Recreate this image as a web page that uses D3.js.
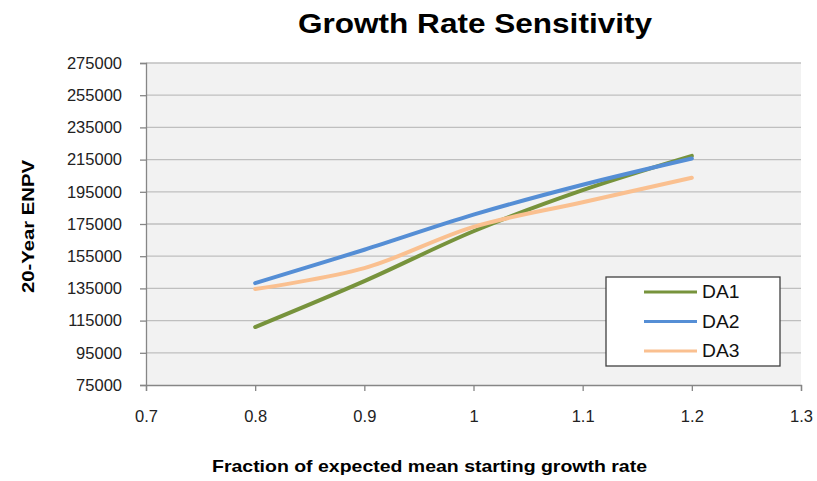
<!DOCTYPE html>
<html>
<head>
<meta charset="utf-8">
<script src="https://cdn.jsdelivr.net/npm/d3@7"></script>
<style>
  html, body { margin: 0; padding: 0; background: #fff; }
  svg { display: block; font-family: "Liberation Sans", Arial, sans-serif; }
</style>
</head>
<body>
<svg id="chart" width="817" height="481"></svg>
<script>
const xValues = [0.8, 0.9, 1.0, 1.1, 1.2];
const seriesNames = ["DA1", "DA2", "DA3"];
const da1 = [111000, 139500, 170500, 196000, 217300];
const da2 = [138300, 159000, 180800, 199400, 215700];
const da3 = [134600, 147600, 173200, 188500, 203700];
const seriesColors = ["#77933C", "#558ED5", "#FAC090"];
const xTicks = [0.7, 0.8, 0.9, 1.0, 1.1, 1.2, 1.3];
const yTicks = [75000, 95000, 115000, 135000, 155000, 175000, 195000, 215000, 235000, 255000, 275000];
const titleText = "Growth Rate Sensitivity";
const xTitle = "Fraction of expected mean starting growth rate";
const yTitle = "20-Year ENPV";

(function () {
const series = [da1, da2, da3].map((vals, i) => ({
  name: seriesNames[i], color: seriesColors[i],
  points: vals.map((v, j) => ({ x: xValues[j], y: v }))
}));

const svg = d3.select("#chart");
const pL = 146, pR = 801, pT = 63, pB = 385;
function widen(sel, f) {
  sel.each(function () {
    const w = this.getComputedTextLength();
    d3.select(this).attr("textLength", w * f).attr("lengthAdjust", "spacingAndGlyphs");
  });
}

const x = d3.scaleLinear().domain([0.7, 1.3]).range([pL, pR]);
const y = d3.scaleLinear().domain([75000, 275000]).range([pB, pT]);

svg.append("rect").attr("x", pL).attr("y", pT)
  .attr("width", pR - pL).attr("height", pB - pT).attr("fill", "#F2F2F2");

svg.append("g").selectAll("line").data(yTicks.filter(t => t !== 75000)).join("line")
  .attr("x1", pL).attr("x2", pR)
  .attr("y1", d => y(d)).attr("y2", d => y(d))
  .attr("stroke", "#BFBFBF").attr("stroke-width", 1.3);

const yAxis = svg.append("g").attr("transform", `translate(${pL},0)`)
  .call(d3.axisLeft(y).tickValues(yTicks).tickFormat(d3.format("d")).tickSize(6).tickPadding(18));
yAxis.select(".domain").attr("stroke", "#868686").attr("stroke-width", 1.3);
yAxis.selectAll(".tick line").attr("stroke", "#868686").attr("stroke-width", 1.3);
yAxis.selectAll(".tick text").attr("font-size", 16.5).attr("fill", "#222")
  .attr("font-family", "Liberation Sans, Arial, sans-serif");

const xAxis = svg.append("g").attr("transform", `translate(0,${pB})`)
  .call(d3.axisBottom(x).tickValues(xTicks).tickFormat(d => String(+d.toFixed(1))).tickSize(6).tickPadding(19));
xAxis.select(".domain").attr("stroke", "#868686").attr("stroke-width", 1.3);
xAxis.selectAll(".tick line").attr("stroke", "#868686").attr("stroke-width", 1.3);
xAxis.selectAll(".tick text").attr("font-size", 16.5).attr("fill", "#222")
  .attr("font-family", "Liberation Sans, Arial, sans-serif");

const line = d3.line().x(d => x(d.x)).y(d => y(d.y)).curve(d3.curveCatmullRom.alpha(0.5));
svg.append("g").selectAll("path").data(series).join("path")
  .attr("d", d => line(d.points))
  .attr("fill", "none").attr("stroke", d => d.color)
  .attr("stroke-width", 4).attr("stroke-linecap", "round").attr("stroke-linejoin", "round");

svg.append("text").attr("x", 475).attr("y", 33)
  .attr("text-anchor", "middle").attr("font-size", 27).attr("font-weight", "bold")
  .attr("fill", "#000").attr("textLength", 354).attr("lengthAdjust", "spacingAndGlyphs")
  .text(titleText);

svg.append("text").attr("x", 429.5).attr("y", 472)
  .attr("text-anchor", "middle").attr("font-size", 17).attr("font-weight", "bold")
  .attr("fill", "#000").attr("textLength", 435).attr("lengthAdjust", "spacingAndGlyphs")
  .text(xTitle);
svg.append("text").attr("transform", `translate(34,226.5) rotate(-90)`)
  .attr("text-anchor", "middle").attr("font-size", 17).attr("font-weight", "bold")
  .attr("fill", "#000").attr("textLength", 133).attr("lengthAdjust", "spacingAndGlyphs")
  .text(yTitle);

const lg = svg.append("g");
lg.append("rect").attr("x", 606).attr("y", 277).attr("width", 174).attr("height", 89)
  .attr("fill", "#fff").attr("stroke", "#404040").attr("stroke-width", 1.3);
const rows = lg.selectAll("g.row").data(series).join("g").attr("class", "row")
  .attr("transform", (d, i) => `translate(0,${292 + i * 29.5})`);
rows.append("line").attr("x1", 644).attr("x2", 697).attr("y1", 0).attr("y2", 0)
  .attr("stroke", d => d.color).attr("stroke-width", 3);
const lt = rows.append("text").attr("x", 702).attr("y", 0).attr("dy", "0.36em")
  .attr("font-size", 17.5).attr("fill", "#111").text(d => d.name);
widen(lt, 1.1);
})();
</script>
</body>
</html>
